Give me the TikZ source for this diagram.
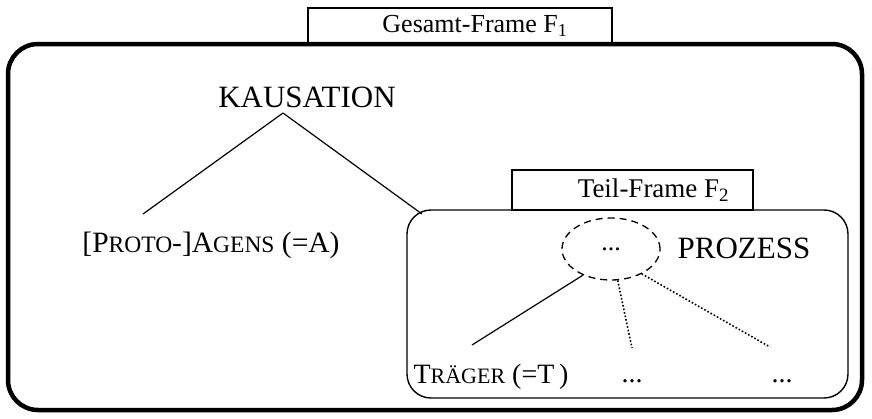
\documentclass[tikz,border=0pt]{standalone}
\usepackage{fontspec}
\setmainfont{Liberation Serif}
\usetikzlibrary{shapes.geometric}
\newcommand{\smc}[2][22]{{\fontsize{#1}{24}\selectfont #2}}

\begin{document}
\begin{tikzpicture}[
    x=1pt, y=-1pt,
    frame/.style={draw, line width=4.5pt, rounded corners=30pt},
    subframe/.style={draw, line width=1.4pt, rounded corners=24pt},
    tag/.style={rectangle, draw, line width=1.2pt, inner sep=0pt, font=\fontsize{26}{30}\selectfont},
    cat/.style={inner sep=2pt, font=\fontsize{31}{34}\selectfont},
    role/.style={inner sep=2pt, font=\fontsize{28}{32}\selectfont},
    slot/.style={ellipse, draw, line width=1.3pt, dash pattern=on 7pt off 5pt, minimum width=98pt, minimum height=62pt, inner sep=0pt, font=\fontsize{26}{30}\selectfont},
    edge/.style={line width=1.2pt},
    dotedge/.style={line width=1.6pt, dotted}
  ]
  \useasboundingbox (0,0) rectangle (872,418);

  % frame labels
  \node[tag, minimum width=304pt, minimum height=36pt] (gesamt) at (460,26) {\hspace*{30pt}Gesamt-Frame F\textsubscript{1}};
  \node[tag, minimum width=241pt, minimum height=40pt, font=\fontsize{27}{30}\selectfont] (teil) at (632.5,190) {\hspace*{42pt}Teil-Frame F\textsubscript{2}};

  % frames
  \draw[frame] (8,44) rectangle (862,410);
  \draw[subframe] (407,210) rectangle (848,398);

  % nodes
  \node[cat] (kaus) at (307,97) {KAUSATION};
  \node[role, font=\fontsize{29.5}{32}\selectfont] (agens) at (211,245) {[P\smc[23.5]{ROTO}-]A\smc[23.5]{GENS} (=A)};
  \node[slot] (proz) at (611,249) {\raisebox{-1pt}[0pt][0pt]{...}};
  \node[cat] (prozess) at (744,248) {PROZESS};
  \node[role] (traeger) at (491,377) {T\smc{RÄGER} (=T\,)};
  \node[role] (etca) at (632,381) {...};
  \node[role] (etcb) at (782,381) {...};

  \coordinate (apex) at (283,113);
  \coordinate (agtop) at (143,214);
  \coordinate (subtop) at (422,214);
  \coordinate (trtop) at (472,345);
  \coordinate (etcatop) at (632,348);
  \coordinate (etcbtop) at (770,347);

  \draw[edge] (apex) -- (agtop);
  \draw[edge] (apex) -- (subtop);
  \draw[edge] (proz.223) -- (trtop);
  \draw[dotedge] (proz.282) -- (etcatop);
  \draw[dotedge] (proz.321) -- (etcbtop);

\end{tikzpicture}
\end{document}
